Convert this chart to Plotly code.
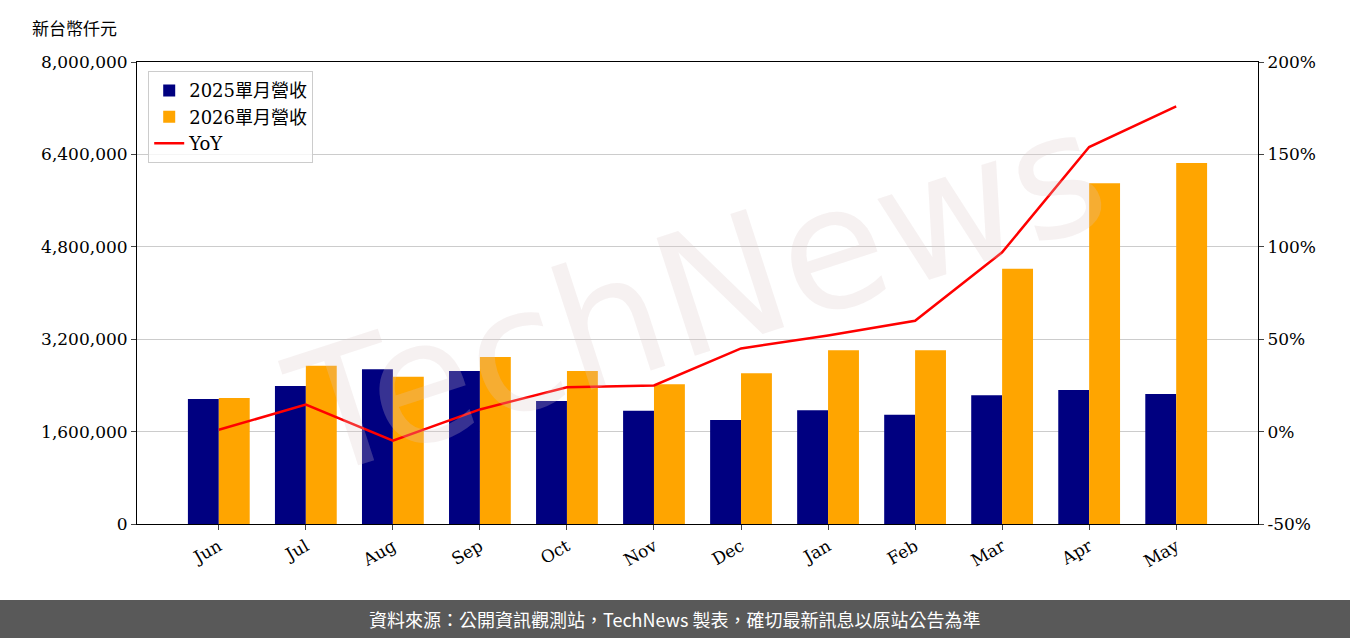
import plotly.graph_objects as go

months = ["Jun", "Jul", "Aug", "Sep", "Oct", "Nov", "Dec", "Jan", "Feb", "Mar", "Apr", "May"]
rev_2025 = [2165000, 2390000, 2680000, 2650000, 2130000, 1960000, 1800000, 1970000, 1890000, 2230000, 2320000, 2250000]
rev_2026 = [2180000, 2740000, 2550000, 2890000, 2650000, 2420000, 2610000, 3010000, 3010000, 4420000, 5900000, 6250000]
yoy = [1, 14.6, -4.9, 12, 24, 25, 45, 52, 60, 97, 154, 176]
pct_ticks = [-50, 0, 50, 100, 150, 200]

W, H = 1350, 638
L, R, T, B = 137, 1258, 62, 524
pw, ph = R - L, B - T

def px(x):
    return (x - L) / pw

def py(y):
    return (B - y) / ph

serif = "DejaVu Serif"
cjk = "Noto Sans CJK TC"

fig = go.Figure()
fig.add_bar(x=months, y=rev_2025, name="2025單月營收", marker_color="#000080",
            marker_line_width=0, offsetgroup="a")
fig.add_bar(x=months, y=rev_2026, name="2026單月營收", marker_color="#FFA500",
            marker_line_width=0, offsetgroup="b")
fig.add_scatter(x=months, y=yoy, name="YoY", mode="lines", yaxis="y2",
                line=dict(color="#FF0000", width=2.5))

fig.update_layout(
    width=W, height=H,
    margin=dict(l=L, r=W - R, t=T, b=H - B, autoexpand=False),
    plot_bgcolor="white", paper_bgcolor="white",
    bargap=0.29, bargroupgap=0,
    font=dict(family=serif, size=17, color="black"),
    xaxis=dict(tickangle=-30, showline=True, linecolor="black", mirror=True,
               ticks="outside", range=[-0.94, 11.94], automargin=False),
    yaxis=dict(range=[0, 8000000], tickvals=[0, 1600000, 3200000, 4800000, 6400000, 8000000],
               tickformat=",d", showgrid=True, gridcolor="#cccccc", ticks="outside",
               showline=True, linecolor="black", zeroline=False, automargin=False),
    yaxis2=dict(range=[-50, 200], tickvals=pct_ticks, ticktext=[f"{v}%" for v in pct_ticks],
                overlaying="y", side="right", showgrid=False, ticks="outside",
                showline=True, linecolor="black", zeroline=False, automargin=False),
    legend=dict(x=0.01, y=0.98, xanchor="left", yanchor="top", bordercolor="#cccccc",
                borderwidth=1, bgcolor="rgba(255,255,255,0.8)",
                font=dict(family=serif + ", " + cjk, size=18)),
    showlegend=True,
)

fig.add_annotation(text="TechNews", xref="paper", yref="paper", x=0.5, y=0.5,
                   showarrow=False, textangle=-18,
                   font=dict(family="DejaVu Sans", size=170, color="rgba(220,200,200,0.25)"))
fig.add_annotation(text="新台幣仟元", xref="paper", yref="paper", x=px(30), y=py(27),
                   xanchor="left", yanchor="middle", showarrow=False,
                   font=dict(family=cjk, size=17))
fig.add_shape(type="rect", xref="paper", yref="paper", x0=px(0), x1=px(W), y0=py(600), y1=py(H),
              fillcolor="#595959", line_width=0, layer="below")
fig.add_annotation(text="資料來源：公開資訊觀測站，TechNews 製表，確切最新訊息以原站公告為準",
                   xref="paper", yref="paper", x=px(W / 2), y=py(619), yanchor="middle",
                   showarrow=False, font=dict(family=cjk, size=18, color="white"))

fig.write_html("out.html", config={"displayModeBar": False},
               post_script="document.body.style.margin='0';")
